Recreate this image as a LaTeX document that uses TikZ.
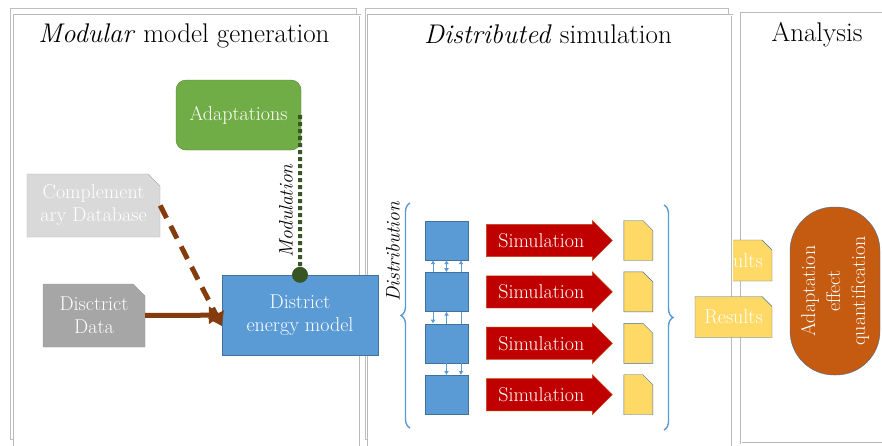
\documentclass[tikz,border=0pt]{standalone}
\usepackage{tikz}
\usetikzlibrary{arrows.meta,positioning,shapes.misc,shapes.arrows,decorations.pathreplacing}
\definecolor{blu}{HTML}{5B9BD5}
\definecolor{bluline}{HTML}{41719C}
\definecolor{grn}{HTML}{70AD47}
\definecolor{dgrn}{HTML}{375623}
\definecolor{brn}{HTML}{843C0C}
\definecolor{rd}{HTML}{C00000}
\definecolor{ylw}{HTML}{FFD966}
\definecolor{org}{HTML}{C55A11}
\newcommand{\bx}{\fontsize{20}{23}\selectfont}
\tikzset{
  bk/.style   ={draw=gray!50,fill=white,line width=0.8pt},
  fr/.style   ={draw=gray!55,fill=white,double=white,double distance=0.9pt,
                line width=0.6pt},
  ttl/.style  ={font=\fontsize{27}{30}\selectfont},
  adp/.style  ={draw=grn!75!black,fill=grn,rounded corners=10pt,text=white,
                minimum width=125pt,minimum height=70pt,font=\bx},
  dat/.style  ={chamfered rectangle,chamfered rectangle corners=north east,
                chamfered rectangle sep=6pt,text=white,align=center,
                inner sep=1pt,font=\bx},
  dem/.style  ={draw=bluline,fill=blu,text=white,align=center,font=\bx,
                minimum width=156pt,minimum height=80pt},
  sq/.style   ={draw=bluline,fill=blu,minimum width=43pt,minimum height=39pt,
                inner sep=0pt},
  simar/.style={single arrow,single arrow head extend=2pt,draw=org!80!rd,
                fill=rd,text=white,font=\bx,minimum height=126pt,
                minimum width=40pt,inner sep=1pt},
  doc/.style  ={chamfered rectangle,chamfered rectangle corners=north east,
                chamfered rectangle sep=5pt,draw=bluline,fill=ylw,
                inner xsep=9.5pt,inner ysep=15pt},
  res/.style  ={chamfered rectangle,chamfered rectangle corners=north east,
                chamfered rectangle sep=5pt,draw=bluline,fill=ylw,text=white,
                minimum width=77pt,minimum height=41pt,inner sep=1pt,font=\bx},
  ana/.style  ={draw=bluline,fill=org,rounded corners=44pt,text=white,
                align=center,font=\fontsize{20}{25}\selectfont,
                minimum width=168pt,minimum height=90pt,inner sep=1pt},
  rot/.style  ={rotate=90,font=\fontsize{19.5}{22}\selectfont\itshape},
  ar/.style   ={brn,line width=5pt,-{Triangle[length=13pt,width=17pt]}},
  tiny/.style ={blu,line width=1pt},
  tip/.style  ={-{Latex[length=4pt,width=5pt]}},
  brc/.style  ={blu,line width=1.4pt,decorate,
                decoration={brace,amplitude=9pt}},
}

\begin{document}
\begin{tikzpicture}[x=1pt,y=-1pt,node distance=12pt and 18pt]
\useasboundingbox (0,0) rectangle (882,445);
\draw[bk] (10,8) rectangle (356,439);
\draw[fr] (14,15) rectangle (360,448);
\draw[fr] (741,13) rectangle (890,443);
\node[res] (r1) at (733.5,260.5) {Results};
\draw[bk] (365,8) rectangle (728,439);
\draw[fr] (368,15) rectangle (732,448);
\node[res] (r2) at (733.5,317) {Results};
\node[ttl] (t1) at (184,36) {\textit{Modular} model generation};
\node[ttl] (t2) at (548,34) {\textit{Distributed} simulation};
\node[ttl] (t3) at (817,35) {Analysis};
\node[adp] (ad) at (238.5,115) {Adaptations};
\node[dat,draw=gray!65,fill=gray!30,minimum width=133pt,minimum height=63pt]
  (cdb) at (93.5,205.5) {Complement\\ary Database};
\node[dat,draw=gray!80,fill=gray!70,minimum width=102pt,minimum height=63pt]
  (dd) at (94,315.5) {Disctrict\\Data};
\node[dem] (dem) at (300,315) {District\\energy model};
\node[circle,fill=dgrn,inner sep=0pt,minimum size=16pt] (md) at (dem.north) {};
\draw[dgrn,line width=4pt,dash pattern=on 4pt off 3pt] ([xshift=-1pt]ad.east) -- (md);
\node[rot] (mo) at (286,211) {Modulation};
\draw[ar] (dd) -- (dem);
\draw[ar,dash pattern=on 14pt off 9pt] (cdb.east) -- ([yshift=-11pt]dem.west);
\node[rot] (di) at (393,252) {Distribution};
\node[sq] (s1) at (446.5,240.5) {};
\node[sq,below=of s1] (s2) {};
\node[sq,below=of s2] (s3) {};
\node[sq,below=of s3] (s4) {};
\foreach \i in {1,...,4}{
  \node[simar,right=of s\i] (sim\i) {Simulation};
  \node[doc,right=11pt of sim\i] (d\i) {};
}
\draw[tiny,tip] ([xshift=-13.5pt]s2.north) -- ([xshift=-13.5pt]s1.south);
\draw[tiny,{Latex[length=4pt,width=5pt]}-{Latex[length=4pt,width=5pt]}] (s2.north) -- (s1.south);
\draw[tiny,tip] ([xshift=14.5pt]s2.north) -- ([xshift=14.5pt]s1.south);
\draw[tiny,tip] ([xshift=-13.5pt]s2.south) -- ([xshift=-13.5pt]s3.north);
\draw[tiny,tip] (s3.north) -- (s2.south);
\draw[tiny] ([xshift=14.5pt]s2.south) -- ([xshift=14.5pt]s3.north);
\draw[tiny,tip] (s3.south) -- (s4.north);
\draw[tiny,tip] ([xshift=14.5pt]s3.south) -- ([xshift=14.5pt]s4.north);
\coordinate (lb1) at (410,428);
\coordinate (lb2) at (410,203);
\coordinate (rb1) at (664,205);
\coordinate (rb2) at (664,430);
\draw[brc] (lb1) -- (lb2);
\draw[brc] (rb1) -- (rb2);
\node[ana,rotate=90] (aq) at (835,291) {Adaptation\\effect\\quantification};
\end{tikzpicture}
\end{document}
